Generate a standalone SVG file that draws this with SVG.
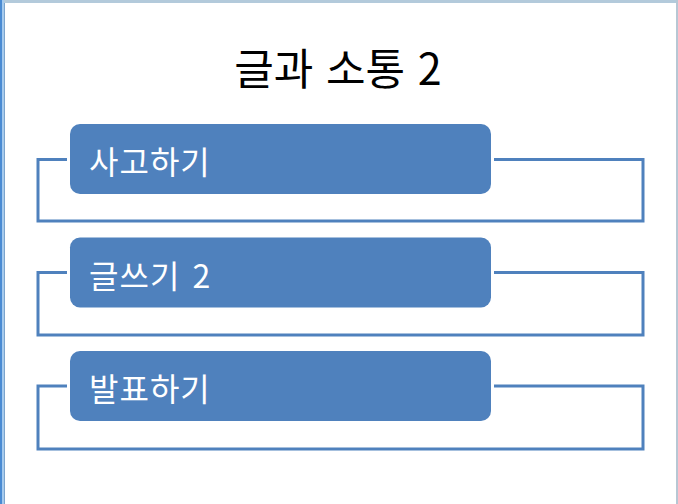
<svg xmlns="http://www.w3.org/2000/svg" width="678" height="504" viewBox="0 0 678 504">
<style>
.box{fill:#4F81BD;}
.con{fill:none;stroke:#4F81BD;stroke-width:3;}
.lbl{font-family:"Noto Sans CJK KR","Noto Sans",sans-serif;font-size:32px;fill:#FFFFFF;letter-spacing:1px;word-spacing:4px;}
.title{font-family:"Noto Sans CJK KR","Noto Sans",sans-serif;font-size:43px;fill:#000000;word-spacing:3px;}
</style>
<rect x="0" y="0" width="678" height="504" fill="#FFFFFF"/>
<rect x="0" y="0" width="678" height="3" fill="#B3CADB"/>
<rect x="0" y="0" width="2" height="504" fill="#4A8BD3"/>
<rect x="2" y="0" width="2" height="504" fill="#A6CBEE"/>
<rect x="4" y="3" width="1" height="501" fill="#7CA4CC"/>
<rect x="676" y="0" width="2" height="504" fill="#B7C7D4"/>
<g id="connectors">
<polyline class="con" points="67,159.5 38,159.5 38,221 643,221 643,159.5 494,159.5"/>
<polyline class="con" points="67,272.5 38,272.5 38,335 643,335 643,272.5 494,272.5"/>
<polyline class="con" points="67,386 38,386 38,449 643,449 643,386 494,386"/>
</g>
<g id="title"><text class="title" x="338" y="85" text-anchor="middle">글과 소통 2</text></g>
<g id="node1">
<rect class="box" x="70" y="124" width="421" height="70" rx="10"/>
<text class="lbl" x="89" y="174">사고하기</text>
</g>
<g id="node2">
<rect class="box" x="70" y="237.5" width="421" height="70" rx="10"/>
<text class="lbl" x="89" y="287.5">글쓰기 2</text>
</g>
<g id="node3">
<rect class="box" x="70" y="351" width="421" height="70" rx="10"/>
<text class="lbl" x="89" y="401">발표하기</text>
</g>
</svg>
